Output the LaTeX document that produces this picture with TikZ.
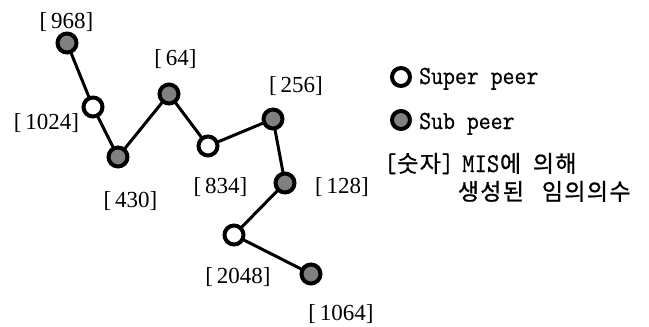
\documentclass[tikz,border=0pt]{standalone}
\usepackage{fontspec}
\setmainfont{Liberation Serif}
\newfontfamily\legfont[FakeStretch=0.89,FakeBold=0.6]{Latin Modern Mono}
\newfontfamily\krfont[FakeBold=1]{Noto Sans CJK KR}
\newlength\cellw
\setlength\cellw{22.5pt}
\def\spreadcells#1{\spreadi#1\relax}
\def\spreadi#1{\ifx#1\relax\else\makebox[\cellw][c]{#1}\expandafter\spreadi\fi}
\begin{document}
\begin{tikzpicture}[x=1pt,y=-1pt,
  peer/.style={circle,draw=black,line width=4pt,minimum size=19pt,inner sep=0pt},
  superp/.style={peer,fill=white},
  subp/.style={peer,fill=black!50},
  lab/.style={font=\fontsize{23}{23}\selectfont,inner sep=0pt,anchor=base},
  leg/.style={font=\legfont\fontsize{26}{26}\selectfont,inner sep=0pt,anchor=base west},
  kr/.style={font=\krfont\fontsize{23}{23}\selectfont,inner sep=0pt,anchor=base west},
  link/.style={line width=3pt}]
\useasboundingbox (0,0) rectangle (649,327);
% link path first (under nodes)
\coordinate (c968)  at (67,43);
\coordinate (c1024) at (93,107);
\coordinate (c430)  at (118,157);
\coordinate (c64)   at (169,94);
\coordinate (c834)  at (208,146);
\coordinate (c256)  at (273,119);
\coordinate (c128)  at (285,183);
\coordinate (c2048) at (234,235);
\coordinate (c1064) at (311,274);
\draw[link] (c968) -- (c1024) -- (c430) -- (c64) -- (c834) -- (c256) -- (c128) -- (c2048) -- (c1064);
% nodes
\node[subp]   (n968)  at (c968)  {};
\node[superp] (n1024) at (c1024) {};
\node[subp]   (n430)  at (c430)  {};
\node[subp]   (n64)   at (c64)   {};
\node[superp] (n834)  at (c834)  {};
\node[subp]   (n256)  at (c256)  {};
\node[subp]   (n128)  at (c128)  {};
\node[superp] (n2048) at (c2048) {};
\node[subp]   (n1064) at (c1064) {};
% labels
\node[lab] (l968)  at (66.5,28) {[\,968]};
\node[lab] (l64)   at (175.5,65) {[\,64]};
\node[lab] (l256)  at (296,92)  {[\,256]};
\node[lab] (l1024) at (46.5,129){[\,1024]};
\node[lab] (l430)  at (130.5,207){[\,430]};
\node[lab] (l834)  at (220.5,193){[\,834]};
\node[lab] (l128)  at (342,193) {[\,128]};
\node[lab] (l2048) at (238,283) {[\,2048]};
\node[lab] (l1064) at (341,320) {[\,1064]};
% legend
\node[superp,minimum size=18pt] (ls) at (401,77) {};
\node[subp,minimum size=18pt]   (lb) at (401,120) {};
\node[leg] (ts) at (419,84)  {Super peer};
\node[leg] (tb) at (419,129) {Sub peer};
\node[kr] (tk1) at (384,172) {\makebox[78pt][l]{{\legfont\fontsize{27}{27}\selectfont[}\spreadcells{숫자}{\legfont\fontsize{27}{27}\selectfont]}}\makebox[70pt][l]{{\legfont\fontsize{27}{27}\selectfont MIS}\spreadcells{에}}\spreadcells{의해}};
\node[kr] (tk2) at (457,200) {\makebox[84pt][l]{\spreadcells{생성된}}\spreadcells{임의의수}};
\end{tikzpicture}
\end{document}
